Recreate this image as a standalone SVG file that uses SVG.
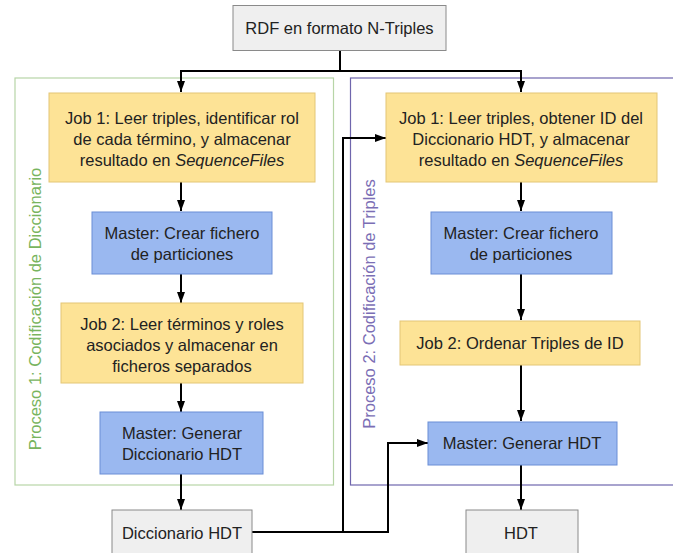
<svg xmlns="http://www.w3.org/2000/svg" width="673" height="553" viewBox="0 0 673 553">
<defs>
<marker id="ah" markerWidth="11" markerHeight="8" refX="11" refY="4" orient="auto" markerUnits="userSpaceOnUse">
<path d="M0,0 L11,4 L0,8 Z" fill="#000"/>
</marker>
<style>
text{font-family:"Liberation Sans",Arial,sans-serif;font-size:16.5px;fill:#222;text-anchor:middle;dominant-baseline:central}
.y{fill:#fde396;stroke:#e3c676;stroke-width:1}
.b{fill:#9ab8f0;stroke:#6a8ed6;stroke-width:1}
.g{fill:#efefef;stroke:#8a8a8a;stroke-width:1}
.c{fill:none;stroke:#000;stroke-width:2}
.cg{fill:none;stroke:#b7d5a7;stroke-width:1.2}
.cp{fill:none;stroke:#6f66ad;stroke-width:1.2}
text.lg{fill:#78b45e;font-size:16.5px}
text.lp{fill:#7b6eb5;font-size:16.5px}
</style>
</defs>
<rect width="673" height="553" fill="#fff"/>
<g id="proceso1">
<rect class="cg" x="15" y="78" width="318.5" height="407"/>
<text class="lg" transform="translate(35,309) rotate(-90)">Proceso 1: Codificación de Diccionario</text>
</g>
<g id="proceso2">
<rect class="cp" x="350.5" y="78" width="324" height="407"/>
<text class="lp" transform="translate(369,304) rotate(-90)">Proceso 2: Codificación de Triples</text>
</g>
<g id="connectors">
<path class="c" d="M340,50 V71 M181,71 H521"/>
<path class="c" d="M181,70 V92" marker-end="url(#ah)"/>
<path class="c" d="M521,70 V92" marker-end="url(#ah)"/>
<path class="c" d="M181,182 V211" marker-end="url(#ah)"/>
<path class="c" d="M181,274 V303" marker-end="url(#ah)"/>
<path class="c" d="M181,383 V412" marker-end="url(#ah)"/>
<path class="c" d="M181,474 V510" marker-end="url(#ah)"/>
<path class="c" d="M521,182 V211" marker-end="url(#ah)"/>
<path class="c" d="M521,274 V320" marker-end="url(#ah)"/>
<path class="c" d="M521,365 V421" marker-end="url(#ah)"/>
<path class="c" d="M521,465 V510" marker-end="url(#ah)"/>
<path class="c" d="M252,532 H343 V138 H386" marker-end="url(#ah)"/>
<path class="c" d="M343,532 H388 V443 H428" marker-end="url(#ah)"/>
</g>
<g id="rdf">
<rect class="g" x="233" y="5.5" width="213" height="45"/>
<text x="339.5" y="28">RDF en formato N-Triples</text>
</g>
<g id="job1-dic">
<rect class="y" x="49" y="93" width="266" height="89"/>
<text x="182" y="118">Job 1: Leer triples, identificar rol</text>
<text x="182" y="139">de cada término, y almacenar</text>
<text x="182" y="160">resultado en <tspan font-style="italic">SequenceFiles</tspan></text>
</g>
<g id="master-dic-part">
<rect class="b" x="92" y="212" width="180" height="62"/>
<text x="182" y="233">Master: Crear fichero</text>
<text x="182" y="254">de particiones</text>
</g>
<g id="job2-dic">
<rect class="y" x="61" y="303" width="242" height="80"/>
<text x="182" y="324">Job 2: Leer términos y roles</text>
<text x="182" y="345">asociados y almacenar en</text>
<text x="182" y="366">ficheros separados</text>
</g>
<g id="master-dic-gen">
<rect class="b" x="100" y="412" width="163" height="62"/>
<text x="182" y="433">Master: Generar</text>
<text x="182" y="454">Diccionario HDT</text>
</g>
<g id="diccionario">
<rect class="g" x="112" y="510" width="140" height="50"/>
<text x="182" y="533">Diccionario HDT</text>
</g>
<g id="job1-tri">
<rect class="y" x="386" y="93" width="271" height="89"/>
<text x="521" y="118">Job 1: Leer triples, obtener ID del</text>
<text x="521" y="139">Diccionario HDT, y almacenar</text>
<text x="521" y="160">resultado en <tspan font-style="italic">SequenceFiles</tspan></text>
</g>
<g id="master-tri-part">
<rect class="b" x="431" y="212" width="181" height="62"/>
<text x="521" y="233">Master: Crear fichero</text>
<text x="521" y="254">de particiones</text>
</g>
<g id="job2-tri">
<rect class="y" x="400" y="321" width="240" height="44"/>
<text x="520" y="343">Job 2: Ordenar Triples de ID</text>
</g>
<g id="master-tri-gen">
<rect class="b" x="428" y="422" width="189" height="43"/>
<text x="522" y="443">Master: Generar HDT</text>
</g>
<g id="hdt">
<rect class="g" x="466" y="510" width="112" height="50"/>
<text x="521" y="533">HDT</text>
</g>
</svg>
